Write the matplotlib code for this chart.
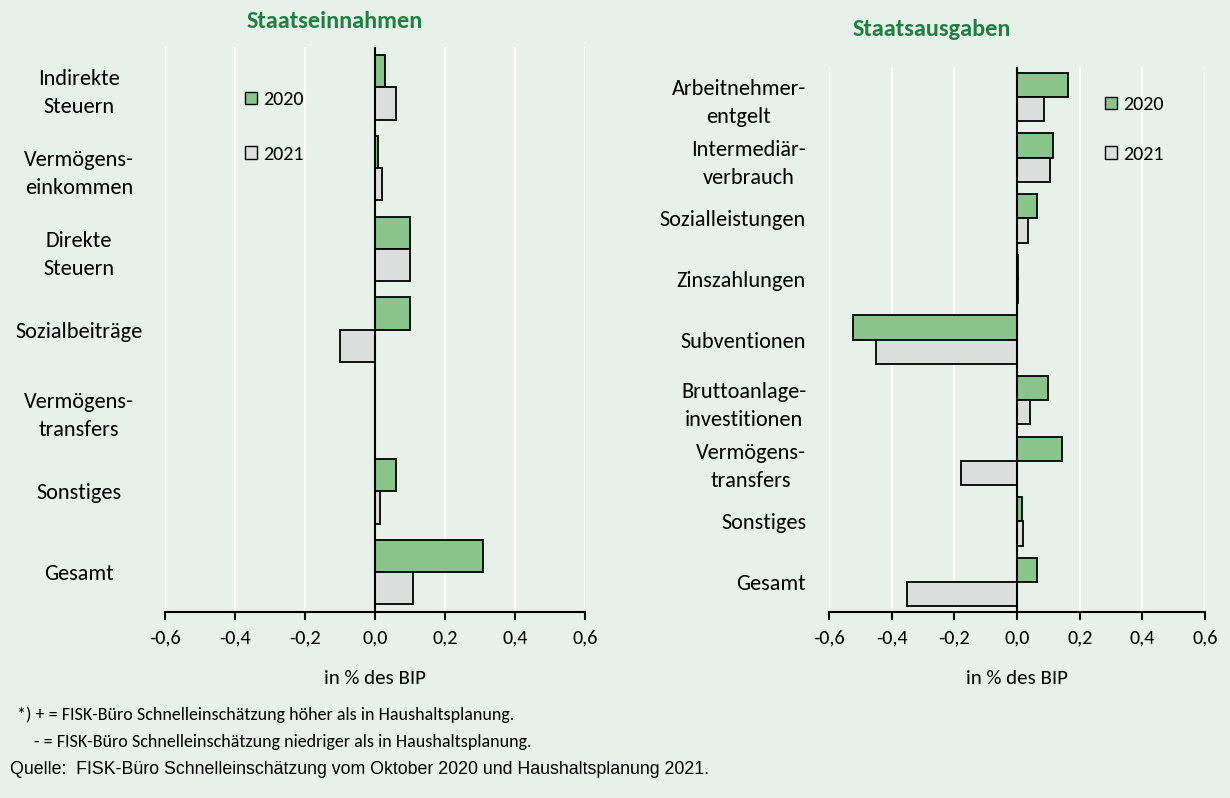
import matplotlib.pyplot as plt
from matplotlib.ticker import FuncFormatter
from matplotlib.patches import Patch

plt.rcParams['font.family'] = ['Carlito', 'Lato', 'DejaVu Sans']

# Daten (Abweichung in % des BIP)
ein_kat = ['Indirekte\nSteuern', 'Vermögens-\neinkommen', 'Direkte\nSteuern', 'Sozialbeiträge',
           'Vermögens-\ntransfers', 'Sonstiges', 'Gesamt']
ein_2020 = [0.03, 0.01, 0.10, 0.10, 0.0, 0.06, 0.31]
ein_2021 = [0.06, 0.02, 0.10, -0.10, 0.0, 0.013, 0.11]

aus_kat = ['Arbeitnehmer-\nentgelt', 'Intermediär-\nverbrauch', 'Sozialleistungen', 'Zinszahlungen',
           'Subventionen', 'Bruttoanlage-\ninvestitionen', 'Vermögens-\ntransfers', 'Sonstiges', 'Gesamt']
aus_2020 = [0.163, 0.115, 0.063, 0.003, -0.525, 0.098, 0.142, 0.015, 0.062]
aus_2021 = [0.085, 0.105, 0.036, 0.003, -0.451, 0.04, -0.179, 0.02, -0.352]

jahre = ['2020', '2021']
x_ticks = [-0.6, -0.4, -0.2, 0.0, 0.2, 0.4, 0.6]

bg = '#E7F0E9'
gruen = '#89C48C'
grau = '#DCDEDD'
titel_farbe = '#1E8040'

fig = plt.figure(figsize=(12.3, 7.98), dpi=100, facecolor=bg)


def zeichne(ax, kat, w2020, w2021, pad, ha):
    ax.set_facecolor(bg)
    pos = list(range(len(kat)))
    ax.barh([p - 0.2 for p in pos], w2020, height=0.4, color=gruen, edgecolor='black', linewidth=1.3, zorder=3)
    ax.barh([p + 0.2 for p in pos], w2021, height=0.4, color=grau, edgecolor='black', linewidth=1.3, zorder=3)
    ax.set_ylim(len(kat) - 0.5, -0.5)
    ax.set_xlim(-0.6, 0.6)
    ax.set_xticks(x_ticks)
    ax.xaxis.set_major_formatter(FuncFormatter(lambda v, p: f'{v:.1f}'.replace('.', ',')))
    ax.grid(axis='x', color='white', linewidth=1.5, zorder=0)
    ax.axvline(0, color='black', linewidth=1.5, zorder=4)
    for s in ['left', 'right', 'top']:
        ax.spines[s].set_visible(False)
    ax.spines['bottom'].set_linewidth(1.5)
    ax.tick_params(axis='x', length=6, width=1.5, labelsize=14.5, pad=6)
    ax.set_yticks(pos)
    ax.set_yticklabels(kat, fontsize=16, ha=ha, ma='center', linespacing=1.5)
    ax.tick_params(axis='y', length=0, pad=pad)
    ax.set_xlabel('in % des BIP', fontsize=15, labelpad=17)


ax1 = fig.add_axes([0.1341, 0.2325, 0.3415, 0.7087])
zeichne(ax1, ein_kat, ein_2020, ein_2021, 62, 'center')
ax2 = fig.add_axes([0.674, 0.2325, 0.3058, 0.684])
zeichne(ax2, aus_kat, aus_2020, aus_2021, 16.5, 'right')

handles = [Patch(facecolor=gruen, edgecolor='black'), Patch(facecolor=grau, edgecolor='black')]
fig.legend(handles, jahre, loc='upper left', bbox_to_anchor=(245 / 1230, 1 - 91 / 798), frameon=False,
           fontsize=14.5, borderpad=0, borderaxespad=0, handlelength=0.6, handleheight=0.6,
           handletextpad=0.3, labelspacing=1.87)
fig.legend(handles, jahre, loc='upper left', bbox_to_anchor=(1105 / 1230, 1 - 96 / 798), frameon=False,
           fontsize=14.5, borderpad=0, borderaxespad=0, handlelength=0.6, handleheight=0.6,
           handletextpad=0.3, labelspacing=1.63)

fig.text(335 / 1230, 1 - 22 / 798, 'Staatseinnahmen', color=titel_farbe, fontsize=17.5, fontweight='bold',
         ha='center', va='center')
fig.text(932 / 1230, 1 - 30 / 798, 'Staatsausgaben', color=titel_farbe, fontsize=17.5, fontweight='bold',
         ha='center', va='center')

fig.text(17 / 1230, 1 - 715 / 798, '*) + = FISK-Büro Schnelleinschätzung höher als in Haushaltsplanung.',
         fontsize=13, va='center')
fig.text(34 / 1230, 1 - 742 / 798, '- = FISK-Büro Schnelleinschätzung niedriger als in Haushaltsplanung.',
         fontsize=13, va='center')
fig.text(10 / 1230, 1 - 770 / 798, 'Quelle:  FISK-Büro Schnelleinschätzung vom Oktober 2020 und Haushaltsplanung 2021.',
         fontsize=12.8, va='center', family=['Liberation Sans Narrow', 'Liberation Sans', 'DejaVu Sans'])

fig.savefig('out.png', dpi=100, facecolor=bg)
